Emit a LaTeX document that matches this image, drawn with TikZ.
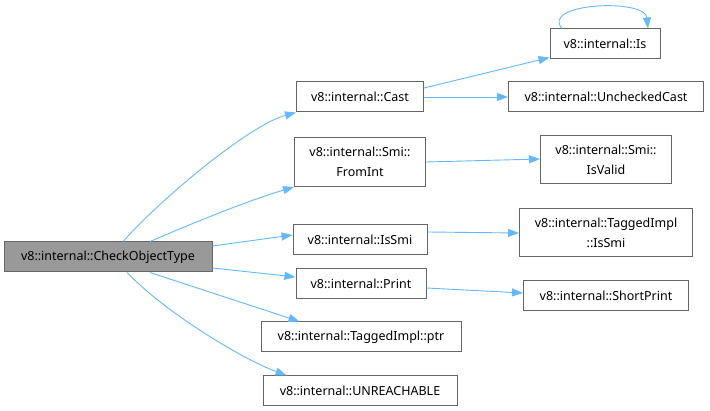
\documentclass[tikz,border=0pt]{standalone}
\usepackage{fontspec}
\setmainfont{Noto Sans}
\usetikzlibrary{arrows.meta}
\definecolor{edgeblue}{HTML}{63B8FF}
\definecolor{boxline}{HTML}{666666}
\definecolor{mainfill}{HTML}{999999}
\begin{document}
\begin{tikzpicture}[x=1pt, y=-1pt,
	fn/.style={draw=boxline, line width=1pt, fill=white, font=\fontsize{12.5}{19.5}\selectfont, align=center, inner sep=1pt, minimum height=30pt},
	call/.style={draw=edgeblue, line width=0.9pt, -{Triangle[length=11pt, width=8pt]}}]
	\useasboundingbox (0,0) rectangle (710,411);
	% 调用者
	\node[fn, fill=mainfill, minimum width=208pt] (check) at (108,257) {v8::internal::CheckObjectType};
	% 第一层
	\node[fn, minimum width=127pt] (cast) at (360,97) {v8::internal::Cast};
	\node[fn, minimum width=131pt, minimum height=49pt] (fromint) at (360,162) {v8::internal::Smi::\\FromInt};
	\node[fn, minimum width=134pt] (issmi) at (360,240) {v8::internal::IsSmi};
	\node[fn, minimum width=130pt] (print) at (361,284) {v8::internal::Print};
	\node[fn, minimum width=200pt] (ptr) at (361,337) {v8::internal::TaggedImpl::ptr};
	\node[fn, minimum width=194pt] (unreach) at (360,391) {v8::internal::UNREACHABLE};
	% 第二层
	\node[fn, minimum width=110pt] (is) at (605,44) {v8::internal::Is};
	\node[fn, minimum width=195pt] (unchecked) at (606,97) {v8::internal::UncheckedCast};
	\node[fn, minimum width=131pt, minimum height=48pt] (isvalid) at (606,160) {v8::internal::Smi::\\IsValid};
	\node[fn, minimum width=173pt, minimum height=48pt] (tissmi) at (606,233) {v8::internal::TaggedImpl\\::IsSmi};
	\node[fn, minimum width=165pt] (shortprint) at (606,296) {v8::internal::ShortPrint};
	% 调用关系
	\draw[call] ([xshift=15pt]check.north) .. controls (165,195) and (250,125) .. (cast.south west);
	\draw[call] ([xshift=42pt]check.north) .. controls (200,220) and (250,200) .. (fromint.south west);
	\draw[call] ([yshift=11pt]check.east) -- ([yshift=5pt]issmi.west);
	\draw[call] ([yshift=-11pt]check.east) -- ([yshift=7pt]print.west);
	\draw[call] ([xshift=42pt]check.south) -- ([xshift=39pt]ptr.north west);
	\draw[call] ([xshift=19pt]check.south) .. controls (165,312) and (240,358) .. ([xshift=24pt]unreach.north west);
	\draw[call] ([yshift=9pt]cast.east) -- ([yshift=2pt]is.south west);
	\draw[call] (cast.east) -- (unchecked.west);
	\draw[call] (fromint.east) -- ([yshift=1pt]isvalid.west);
	\draw[call] ([yshift=8pt]issmi.east) -- (tissmi.west);
	\draw[call] ([yshift=-4pt]print.east) -- ([yshift=3pt]shortprint.west);
	% 自调用
	\draw[call] ([xshift=-43pt]is.north) .. controls (540,3) and (645,-2) .. ([xshift=43pt]is.north);
\end{tikzpicture}
\end{document}
